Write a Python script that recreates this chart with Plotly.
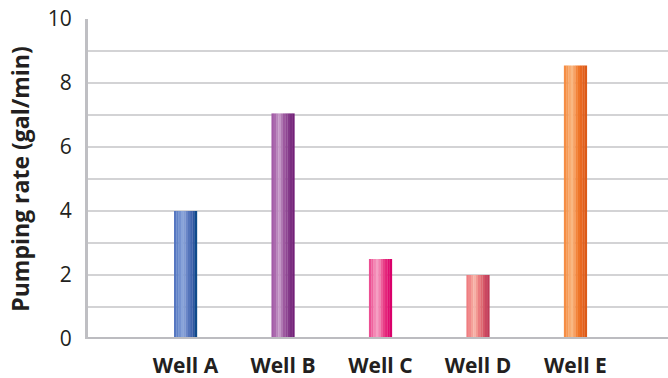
import plotly.graph_objects as go

# Pumping rates per well
wells = ["Well A", "Well B", "Well C", "Well D", "Well E"]
rates = [4.0, 7.05, 2.5, 2.0, 8.55]

y_ticks = [0, 2, 4, 6, 8, 10]

# Vertical stripe shades (left -> right) giving each column a rounded, tube-like look
stripe_colors = {
    "Well A": ["#5677c1", "#6183c8", "#7492d0", "#88a3d9", "#809bd4", "#6a86c7",
               "#5474ba", "#4265af", "#2f57a1", "#0f4a8a"],
    "Well B": ["#a25aa6", "#ab6aae", "#b985bc", "#c596c7", "#b07ab3", "#9d599f",
               "#8f4693", "#843a89", "#7a2d80", "#731f78"],
    "Well C": ["#ec4f93", "#ef659f", "#f387b4", "#f59fc3", "#f284b1", "#ee5d9b",
               "#e83f87", "#e4237a", "#e00e70", "#d9006a"],
    "Well D": ["#ef7d80", "#f18a8b", "#f4a199", "#f6b1a6", "#f29a93", "#ea7c7f",
               "#e06a72", "#d65868", "#ca4760", "#bf3a57"],
    "Well E": ["#f58d44", "#f69954", "#f8a96c", "#f9b782", "#f7a062", "#f3843a",
               "#ee7428", "#e96820", "#e2601c", "#dc5a18"],
}

bar_width = 0.236
n_stripes = len(stripe_colors[wells[0]])
stripe_w = bar_width / n_stripes

fig = go.Figure()
for i in range(n_stripes):
    fig.add_trace(go.Bar(
        x=wells,
        y=rates,
        width=[stripe_w * 1.08] * len(wells),
        offset=-bar_width / 2 + i * stripe_w,
        marker=dict(color=[stripe_colors[w][i] for w in wells], line=dict(width=0)),
        hoverinfo="x+y",
        showlegend=False,
    ))

font_family = "Open Sans, Lato, DejaVu Sans, sans-serif"
text_color = "#231f20"

fig.update_layout(
    width=668,
    height=378,
    margin=dict(l=88, r=0, t=19, b=39),
    paper_bgcolor="white",
    plot_bgcolor="white",
    barmode="overlay",
    template="none",
    font=dict(family=font_family, color=text_color),
    xaxis=dict(
        type="category",
        range=[-1.0, 4.95],
        showgrid=False,
        showline=False,
        zeroline=False,
        ticks="",
        tickfont=dict(size=21, family=font_family, color=text_color, weight="bold"),
        ticklabelstandoff=12,
    ),
    yaxis=dict(
        range=[0, 10],
        tickvals=y_ticks,
        ticktext=[str(v) for v in y_ticks],
        showgrid=True,
        gridcolor="#d3d3d5",
        gridwidth=2,
        minor=dict(dtick=1, showgrid=True, gridcolor="#d3d3d5", gridwidth=2),
        showline=True,
        linecolor="#bfbfc3",
        linewidth=3,
        zeroline=False,
        ticks="",
        ticklabelstandoff=9,
        tickfont=dict(size=21, family=font_family, color=text_color),
        title=dict(
            text="Pumping rate (gal/min)",
            font=dict(size=23, family=font_family, color=text_color, weight="bold"),
            standoff=12,
        ),
    ),
)

# Baseline along y = 0
fig.add_shape(type="line", xref="paper", yref="y", x0=0, x1=1, y0=0, y1=0,
              line=dict(color="#bcbcc0", width=4), layer="above")

fig.write_html("out.html")
